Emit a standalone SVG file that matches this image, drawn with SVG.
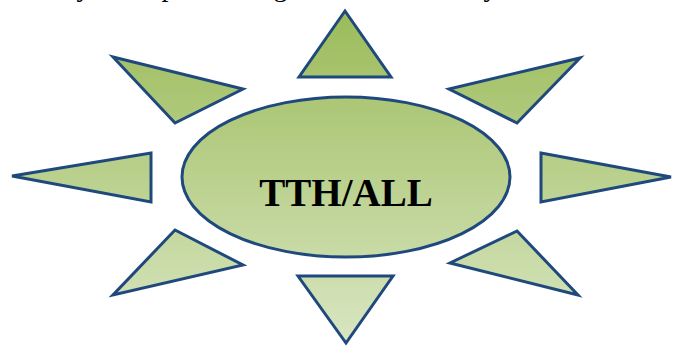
<svg xmlns="http://www.w3.org/2000/svg" width="673" height="346" viewBox="0 0 673 346">
<defs>
<linearGradient id="g" gradientUnits="userSpaceOnUse" x1="0" y1="10" x2="0" y2="343">
<stop offset="0" stop-color="#9BBB59"/>
<stop offset="1" stop-color="#D9E6C2"/>
</linearGradient>
</defs>
<style>
.s{fill:url(#g);stroke:#1F497D;stroke-width:3;stroke-linejoin:miter}
.t{font-family:"Liberation Serif","Times New Roman",serif;fill:#000}
</style>
<rect width="673" height="346" fill="#fff"/>
<text class="t" font-size="28"><tspan x="-21" y="-4">efficiency,</tspan><tspan x="132" y="-4">implementing</tspan><tspan x="300" y="-4">database</tspan><tspan x="401" y="-4">usability for all data</tspan></text>
<g id="rays">
<polygon id="ray-top" class="s" points="345,11 391,77 299,77"/>
<polygon id="ray-top-left" class="s" points="113,57 243,89 175,123"/>
<polygon id="ray-left" class="s" points="12,176 151,153 151,202"/>
<polygon id="ray-bottom-left" class="s" points="175,230 243,265 113,295"/>
<polygon id="ray-bottom" class="s" points="298,276 393,276 346,343"/>
<polygon id="ray-bottom-right" class="s" points="517,231 578,295 450,263"/>
<polygon id="ray-right" class="s" points="541,153 671,177 541,202"/>
<polygon id="ray-top-right" class="s" points="580,58 517,123 449,89"/>
</g>
<g id="center">
<ellipse class="s" cx="346" cy="177" rx="164" ry="80"/>
<text class="t" x="346" y="206" font-size="39" font-weight="bold" text-anchor="middle">TTH/ALL</text>
</g>
</svg>
